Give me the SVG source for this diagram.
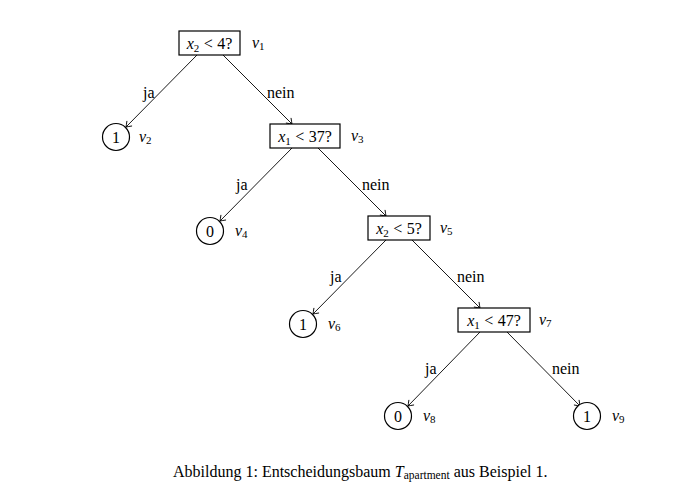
<svg xmlns="http://www.w3.org/2000/svg" width="700" height="494" viewBox="0 0 700 494">
<defs>
<style>
text{font-family:"Liberation Serif","Times New Roman",serif;fill:#000;}
.t{font-size:16px;}
.c{text-anchor:middle;}
.i{font-style:italic;}
.s{font-size:11px;}
.box{fill:#fff;stroke:#000;stroke-width:1.2;}
.leaf{fill:#fff;stroke:#000;stroke-width:1.2;}
.e{stroke:#000;stroke-width:0.9;fill:none;marker-end:url(#ah);}
</style>
<marker id="ah" markerUnits="userSpaceOnUse" markerWidth="12" markerHeight="12" viewBox="-6 -6 12 12" refX="0" refY="0" orient="auto">
<path d="M -5 -3.6 Q -1.2 -0.8 0 0 Q -1.2 0.8 -5 3.6" fill="none" stroke="#000" stroke-width="0.9"/>
</marker>
</defs>
<rect width="700" height="494" fill="#fff"/>
<g id="connectors">
<line class="e" x1="197" y1="55" x2="126" y2="127"/>
<line class="e" x1="223" y1="55" x2="292" y2="124"/>
<line class="e" x1="292" y1="148" x2="220" y2="221"/>
<line class="e" x1="318" y1="148" x2="386" y2="216"/>
<line class="e" x1="386" y1="240" x2="313" y2="314"/>
<line class="e" x1="412" y1="240" x2="480" y2="308"/>
<line class="e" x1="480" y1="332" x2="408" y2="406"/>
<line class="e" x1="507" y1="332" x2="580" y2="406"/>
<text class="t" x="143" y="98">ja</text>
<text class="t" x="267" y="98">nein</text>
<text class="t" x="236" y="190">ja</text>
<text class="t" x="362" y="190">nein</text>
<text class="t" x="330" y="282">ja</text>
<text class="t" x="457" y="282">nein</text>
<text class="t" x="425" y="374">ja</text>
<text class="t" x="552" y="374">nein</text>
</g>
<g id="v1">
<rect class="box" x="179" y="31" width="61" height="24"/>
<text class="t c" x="209.5" y="49"><tspan class="i">x</tspan><tspan class="s" dy="3">2</tspan><tspan dy="-3" dx="4.5">&lt;</tspan><tspan dx="4.5">4?</tspan></text>
<text class="t" x="252" y="48"><tspan class="i">v</tspan><tspan class="s" dy="2">1</tspan></text>
</g>
<g id="v2">
<circle class="leaf" cx="116" cy="137" r="13.5"/>
<text class="t c" x="116" y="142.5">1</text>
<text class="t" x="139" y="142"><tspan class="i">v</tspan><tspan class="s" dy="2">2</tspan></text>
</g>
<g id="v3">
<rect class="box" x="270" y="124" width="70" height="24"/>
<text class="t c" x="305" y="142"><tspan class="i">x</tspan><tspan class="s" dy="3">1</tspan><tspan dy="-3" dx="4.5">&lt;</tspan><tspan dx="4.5">37?</tspan></text>
<text class="t" x="351" y="141"><tspan class="i">v</tspan><tspan class="s" dy="2">3</tspan></text>
</g>
<g id="v4">
<circle class="leaf" cx="210" cy="231" r="13.5"/>
<text class="t c" x="210" y="236.5">0</text>
<text class="t" x="235" y="236"><tspan class="i">v</tspan><tspan class="s" dy="2">4</tspan></text>
</g>
<g id="v5">
<rect class="box" x="368" y="216" width="62" height="24"/>
<text class="t c" x="399" y="234"><tspan class="i">x</tspan><tspan class="s" dy="3">2</tspan><tspan dy="-3" dx="4.5">&lt;</tspan><tspan dx="4.5">5?</tspan></text>
<text class="t" x="440" y="233"><tspan class="i">v</tspan><tspan class="s" dy="2">5</tspan></text>
</g>
<g id="v6">
<circle class="leaf" cx="303" cy="324" r="13.5"/>
<text class="t c" x="303" y="329.5">1</text>
<text class="t" x="328" y="329"><tspan class="i">v</tspan><tspan class="s" dy="2">6</tspan></text>
</g>
<g id="v7">
<rect class="box" x="458" y="308" width="72" height="24"/>
<text class="t c" x="494" y="326"><tspan class="i">x</tspan><tspan class="s" dy="3">1</tspan><tspan dy="-3" dx="4.5">&lt;</tspan><tspan dx="4.5">47?</tspan></text>
<text class="t" x="539" y="325"><tspan class="i">v</tspan><tspan class="s" dy="2">7</tspan></text>
</g>
<g id="v8">
<circle class="leaf" cx="398" cy="416" r="13.5"/>
<text class="t c" x="398" y="421.5">0</text>
<text class="t" x="423" y="421"><tspan class="i">v</tspan><tspan class="s" dy="2">8</tspan></text>
</g>
<g id="v9">
<circle class="leaf" cx="587" cy="416" r="13.5"/>
<text class="t c" x="587" y="421.5">1</text>
<text class="t" x="612" y="421"><tspan class="i">v</tspan><tspan class="s" dy="2">9</tspan></text>
</g>
<text id="caption" x="173" y="477" style="font-size:16px">Abbildung 1: Entscheidungsbaum <tspan class="i">T</tspan><tspan style="font-size:11.5px" dy="2">apartment</tspan><tspan dy="-2"> aus Beispiel 1.</tspan></text>
</svg>
